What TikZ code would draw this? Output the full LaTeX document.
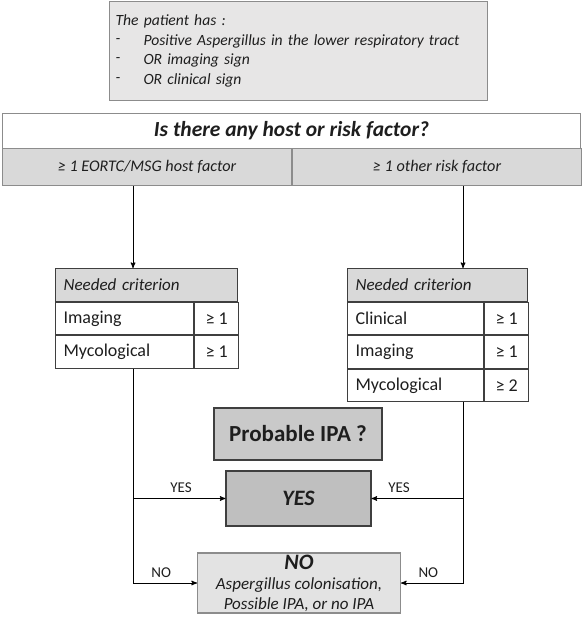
\documentclass[tikz,border=0pt]{standalone}
\usepackage{fontspec}
\setmainfont{Carlito}
\usetikzlibrary{arrows,positioning}
\definecolor{lightbox}{HTML}{E7E6E6}
\definecolor{rowgray}{HTML}{D9D9D9}
\definecolor{probgray}{HTML}{C9C9C9}
\definecolor{yesgray}{HTML}{BFBFBF}
\definecolor{nogray}{HTML}{E3E3E3}
\definecolor{softline}{HTML}{8C8C8C}
\definecolor{tblline}{HTML}{3F3F3F}
\definecolor{inkc}{HTML}{1E1E1E}

\begin{document}
\begin{tikzpicture}[x=1pt,y=-1pt,->,>=stealth',line width=1pt,text=inkc,font=\fontsize{18}{21}\selectfont]
\tikzstyle{every node}=[inner sep=0pt]
\tikzstyle{cell}=[draw=tblline,line width=1.1pt,minimum height=32.5pt,inner xsep=8pt,anchor=north west]
\tikzstyle{wide}=[cell,align=left]
\tikzstyle{count}=[cell,minimum width=44pt]
\tikzstyle{branch}=[font=\fontsize{15}{17}\selectfont,above=5pt]
\useasboundingbox (0,0) rectangle (582,617);

% entry box
\node[draw=softline,fill=lightbox,anchor=north west,minimum width=378pt,minimum height=99pt,
      text width=366pt,inner xsep=6pt,align=left,font=\fontsize{15.6}{19.5}\selectfont\itshape]
      (patient) at (109,1)
      {The patient has :\\
       \makebox[28pt][l]{\raisebox{2pt}{-}}Positive Aspergillus in the lower respiratory tract\\
       \makebox[28pt][l]{\raisebox{2pt}{-}}OR imaging sign\\
       \makebox[28pt][l]{\raisebox{2pt}{-}}OR clinical sign};

% question and the two branches
\node[draw=softline,fill=white,anchor=north west,minimum width=578pt,minimum height=35pt,
      font=\fontsize{21.5}{24}\selectfont\bfseries\itshape] (question) at (2,113)
      {Is there any host or risk factor?};
\node[draw=softline,fill=rowgray,anchor=north west,minimum width=289pt,minimum height=37pt,
      font=\fontsize{16.2}{18}\selectfont\itshape] (hostf) at (2,148) {≥ 1 EORTC/MSG host factor};
\node[draw=softline,fill=rowgray,minimum width=289pt,minimum height=37pt,
      font=\fontsize{16.2}{18}\selectfont\itshape,right=0pt of hostf] (riskf) {≥ 1 other risk factor};

\coordinate (la) at (133,0);
\coordinate (ra) at (463,0);

% left table
\node[wide,fill=rowgray,text width=166pt,font=\fontsize{17}{20}\selectfont\itshape] (lhead) at (55,268) {Needed criterion};
\node[wide,text width=122pt] (limg) at (lhead.south west) {Imaging};
\node[count] (limgn) at (limg.north east) {≥ 1};
\node[wide,text width=122pt] (lmyc) at (limg.south west) {Mycological};
\node[count] (lmycn) at (lmyc.north east) {≥ 1};

% right table
\node[wide,fill=rowgray,text width=164pt,font=\fontsize{17}{20}\selectfont\itshape] (rhead) at (347,268) {Needed criterion};
\node[wide,text width=120pt] (rcli) at (rhead.south west) {Clinical};
\node[count] (rclin) at (rcli.north east) {≥ 1};
\node[wide,text width=120pt] (rimg) at (rcli.south west) {Imaging};
\node[count] (rimgn) at (rimg.north east) {≥ 1};
\node[wide,text width=120pt] (rmyc) at (rimg.south west) {Mycological};
\node[count] (rmycn) at (rmyc.north east) {≥ 2};

% outcome boxes
\node[draw=tblline,line width=1.1pt,fill=probgray,minimum width=168pt,minimum height=52pt,
      font=\fontsize{23}{26}\selectfont\bfseries] (prob) at (298,434) {Probable IPA ?};
\node[draw=tblline,line width=1.1pt,fill=yesgray,minimum width=145pt,minimum height=55pt,
      font=\fontsize{22}{24}\selectfont\bfseries\itshape] (yes) at (298.5,498.5) {YES};
\node[draw=softline,line width=1.1pt,fill=nogray,minimum width=203pt,minimum height=60pt,align=center,
      font=\fontsize{17}{20}\selectfont\itshape] (no) at (299,583)
      {{\fontsize{22}{20}\selectfont\bfseries NO}\\Aspergillus colonisation,\\Possible IPA, or no IPA};

% connectors
\draw (hostf.south -| la) -- (lhead.north -| la);
\draw (riskf.south -| ra) -- (rhead.north -| ra);
\draw (lmyc.south -| la) |- (yes.west) node[branch,pos=0.76] {YES};
\draw (lmyc.south -| la) |- (no.west) node[branch,pos=0.72] {NO};
\draw (rmyc.south -| ra) |- (yes.east) node[branch,pos=0.85] {YES};
\draw (rmyc.south -| ra) |- (no.east) node[branch,pos=0.78] {NO};
\end{tikzpicture}
\end{document}
